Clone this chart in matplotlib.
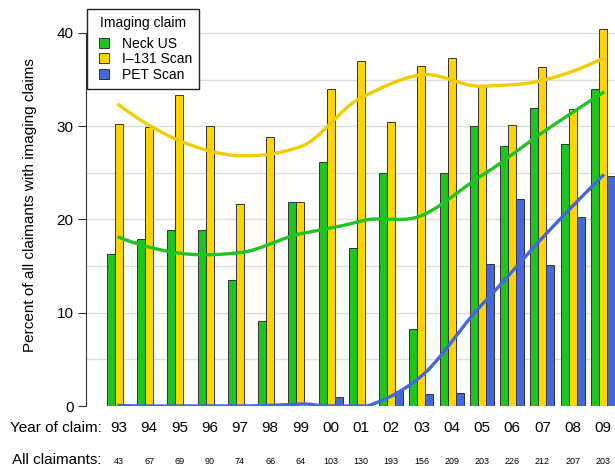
import numpy as np
import matplotlib.pyplot as plt
from matplotlib.lines import Line2D

plt.rcParams['font.family'] = ['Liberation Sans', 'DejaVu Sans']

years = ['93', '94', '95', '96', '97', '98', '99', '00', '01',
         '02', '03', '04', '05', '06', '07', '08', '09']
claimants = [43, 67, 69, 90, 74, 66, 64, 103, 130,
             193, 156, 209, 203, 226, 212, 207, 203]
neck_us = [16.3, 17.9, 18.9, 18.9, 13.5, 9.1, 21.9, 26.2, 16.9,
           25.0, 8.3, 25.0, 30.0, 27.9, 32.0, 28.1, 34.0]
i131 = [30.2, 29.9, 33.3, 30.0, 21.7, 28.8, 21.9, 34.0, 37.0,
        30.5, 36.5, 37.3, 34.3, 30.1, 36.3, 31.8, 40.4]
pet = [0, 0, 0, 0, 0, 0, 0, 1.0, 0,
       1.6, 1.3, 1.4, 15.2, 22.2, 15.1, 20.3, 24.7]

GREEN = '#1fc41f'
YELLOW = '#ffd400'
BLUE = '#4468dc'
EDGE = '#333333'


def loess(x, y, xs, span=0.75, step=2):
    # local quadratic fits (tricube weights) at a set of vertices,
    # joined by cubic hermite pieces using the local slopes
    x = np.asarray(x, float)
    y = np.asarray(y, float)
    q = int(np.floor(span * len(x)))
    verts = x[::step]
    vals, slopes = [], []
    for x0 in verts:
        d = np.abs(x - x0)
        h = np.sort(d)[q - 1] * 1.0001
        w = np.clip(1 - (d / h) ** 3, 0, None) ** 3
        p = np.polyfit(x - x0, y, 2, w=np.sqrt(w))
        vals.append(p[2])
        slopes.append(p[1])
    vals, slopes = np.array(vals), np.array(slopes)
    k = np.clip(np.searchsorted(verts, xs) - 1, 0, len(verts) - 2)
    dx = verts[k + 1] - verts[k]
    t = (xs - verts[k]) / dx
    h00 = 2 * t**3 - 3 * t**2 + 1
    h10 = t**3 - 2 * t**2 + t
    h01 = -2 * t**3 + 3 * t**2
    h11 = t**3 - t**2
    return (h00 * vals[k] + h10 * dx * slopes[k]
            + h01 * vals[k + 1] + h11 * dx * slopes[k + 1])


fig = plt.figure(figsize=(6.15, 4.67), dpi=100)
ax = fig.add_axes([86 / 615, 61 / 467, 529 / 615, 401 / 467])

idx = np.arange(len(years))
w = 0.265
ax.bar(idx - w, neck_us, w, color=GREEN, edgecolor=EDGE, linewidth=0.7, zorder=2)
ax.bar(idx, i131, w, color=YELLOW, edgecolor=EDGE, linewidth=0.7, zorder=2)
ax.bar(idx + w, pet, w, color=BLUE, edgecolor=EDGE, linewidth=0.7, zorder=2)

xs = np.linspace(0, len(years) - 1, 400)
ax.plot(xs, loess(idx, i131, xs), color='#f2cc00', lw=2.4, zorder=3)
ax.plot(xs, loess(idx, neck_us, xs), color=GREEN, lw=2.4, zorder=3)
ax.plot(xs, np.maximum(loess(idx, pet, xs), 0), color=BLUE, lw=2.4, zorder=3)

ax.set_xlim(-1.09, 16.4)
ax.set_ylim(0, 43)
for v in range(5, 45, 5):
    ax.axhline(v, color='#dedede', lw=1, zorder=0)

for s in ['top', 'right', 'bottom']:
    ax.spines[s].set_visible(False)
ax.spines['left'].set_bounds(0, 40)
ax.spines['left'].set_color(EDGE)
ax.set_yticks([0, 10, 20, 30, 40])
ax.tick_params(axis='y', length=6, color=EDGE, labelsize=11, pad=3)
ax.set_ylabel('Percent of all claimants with imaging claims', fontsize=11, labelpad=14)

ax.set_xticks(idx)
ax.set_xticklabels(years, fontsize=11)
ax.tick_params(axis='x', length=0, pad=11)

fig.text(102 / 615, 1 - 428 / 467, 'Year of claim:', ha='right', va='center', fontsize=11)
fig.text(102 / 615, 1 - 460 / 467, 'All claimants:', ha='right', va='center', fontsize=11)
fig.canvas.draw()
for i, n in enumerate(claimants):
    x_disp = ax.transData.transform((i, 0))[0]
    fig.text(x_disp / fig.bbox.width, 1 - 461 / 467, str(n),
             ha='center', va='center', fontsize=6.5)

handles = [Line2D([], [], ls='none', marker='s', ms=6.5, mfc=c, mec=EDGE, mew=0.7, label=l)
           for c, l in [(GREEN, 'Neck US'), (YELLOW, 'I\u2013131 Scan'), (BLUE, 'PET Scan')]]
leg = ax.legend(handles=handles, title='Imaging claim', loc='upper left',
                bbox_to_anchor=(87 / 615, 1 - 9 / 467), bbox_transform=fig.transFigure,
                borderaxespad=0, fontsize=10, title_fontsize=10, fancybox=False,
                edgecolor='#222222', framealpha=1, handlelength=1.4,
                handletextpad=0.6, labelspacing=0.1, borderpad=0.5)
leg._legend_box.sep = 5
leg.get_frame().set_linewidth(1)
leg.set_zorder(5)

fig.savefig('out.png', dpi=100)
